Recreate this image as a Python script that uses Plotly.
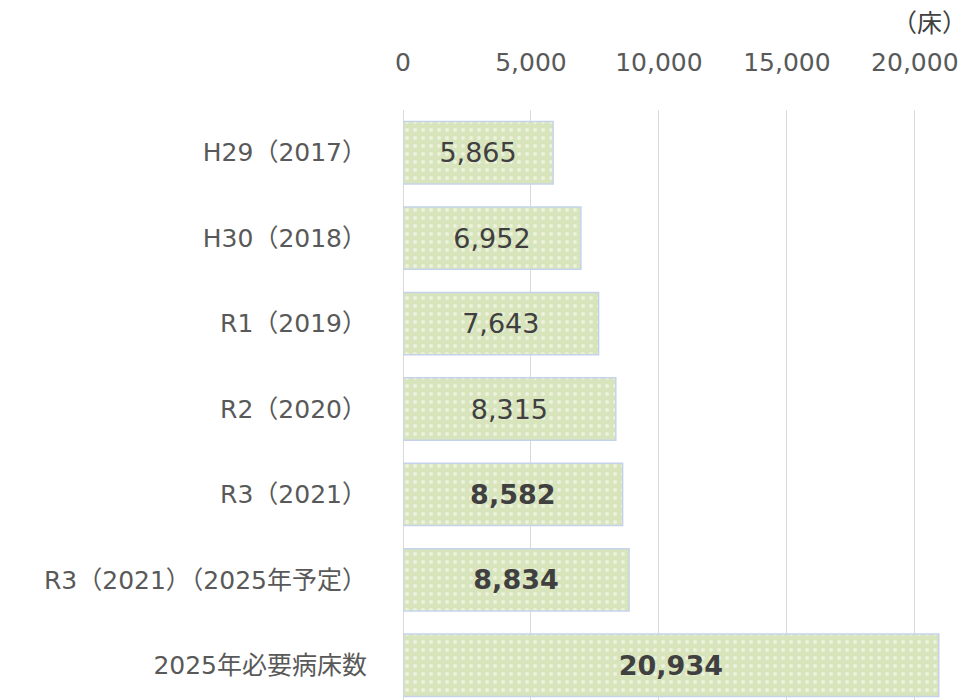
import plotly.graph_objects as go

categories = ["H29（2017）", "H30（2018）", "R1（2019）", "R2（2020）", "R3（2021）",
              "R3（2021）（2025年予定）", "2025年必要病床数"]
values = [5865, 6952, 7643, 8315, 8582, 8834, 20934]
bold_flags = [False, False, False, False, True, True, True]
x_ticks = [0, 5000, 10000, 15000, 20000]
x_tick_labels = ["0", "5,000", "10,000", "15,000", "20,000"]
unit_label = "（床）"

labels = [f"<b>{v:,}</b>" if b else f"{v:,}" for v, b in zip(values, bold_flags)]

FONT = "DejaVu Sans, Verdana, Noto Sans CJK JP, sans-serif"

fig = go.Figure(go.Bar(
    x=values, y=categories, orientation="h",
    text=labels, textposition="inside", insidetextanchor="middle", textangle=0,
    textfont=dict(size=27, color="#404040", family=FONT),
    constraintext="none",
    marker=dict(
        color="#d8e4bc",
        line=dict(color="#c5d3ea", width=1.5),
        pattern=dict(shape=".", fgcolor="#ffffff", bgcolor="#d8e4bc", size=8, solidity=0.2),
    ),
    width=0.73,
    hoverinfo="skip",
))

fig.update_layout(
    width=969, height=700,
    margin=dict(l=395, r=11, t=102, b=0, autoexpand=False),
    paper_bgcolor="white", plot_bgcolor="white",
    font=dict(family=FONT, size=25, color="#595959"),
    showlegend=False,
    xaxis=dict(
        side="top", range=[0, 22000], tickvals=x_ticks, ticktext=x_tick_labels,
        showgrid=True, gridcolor="#d9d9d9", gridwidth=1,
        zeroline=True, zerolinecolor="#d9d9d9", zerolinewidth=1,
        showline=False, ticks="", ticklabelstandoff=33, automargin=False,
        tickfont=dict(size=25, color="#595959", family=FONT),
        fixedrange=True,
    ),
    yaxis=dict(
        type="category", range=[6.5, -0.5],
        showgrid=False, zeroline=False, showline=False, ticks="",
        ticklabelstandoff=35, automargin=False,
        tickfont=dict(size=25, color="#595959", family=FONT),
        fixedrange=True,
    ),
    annotations=[dict(
        text=unit_label, xref="paper", yref="paper", x=1.0, y=1.0,
        xanchor="right", yanchor="bottom", xshift=3, yshift=70, showarrow=False,
        font=dict(size=25, color="#404040", family=FONT),
    )],
)

fig.write_html("out.html")
